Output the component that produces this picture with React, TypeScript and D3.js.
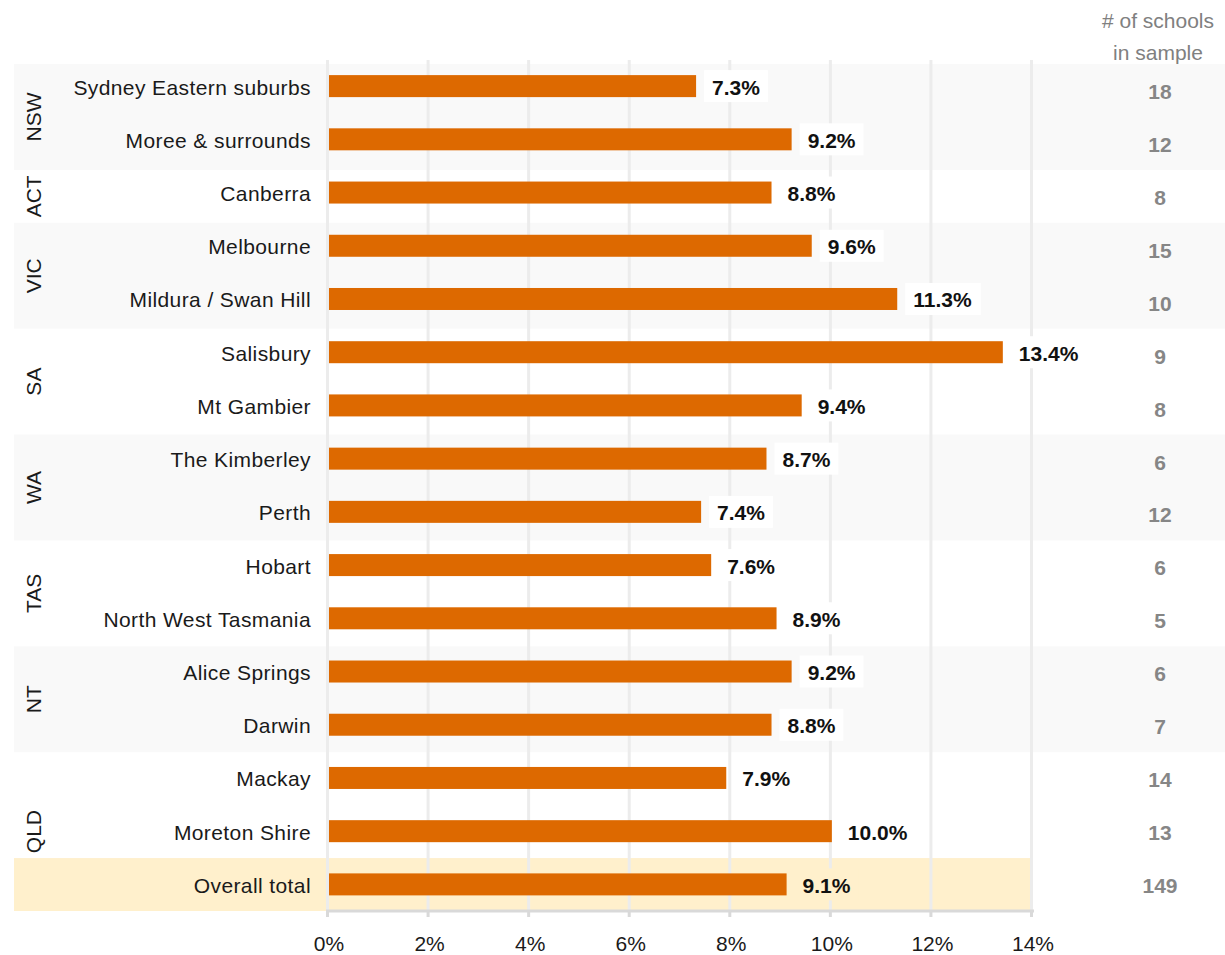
import React from "react";
import * as d3 from "d3";

const categories = [
  "Sydney Eastern suburbs", "Moree & surrounds", "Canberra", "Melbourne", "Mildura / Swan Hill",
  "Salisbury", "Mt Gambier", "The Kimberley", "Perth", "Hobart", "North West Tasmania",
  "Alice Springs", "Darwin", "Mackay", "Moreton Shire", "Overall total",
];
const values = [7.3, 9.2, 8.8, 9.6, 11.3, 13.4, 9.4, 8.7, 7.4, 7.6, 8.9, 9.2, 8.8, 7.9, 10.0, 9.1];
const schools = [18, 12, 8, 15, 10, 9, 8, 6, 12, 6, 5, 6, 7, 14, 13, 149];
// state groups: name, first row, row count, rows spanned by the label
const groupNames = ["NSW", "ACT", "VIC", "SA", "WA", "TAS", "NT", "QLD"];
const groupStart = [0, 2, 3, 5, 7, 9, 11, 13];
const groupSize = [2, 1, 2, 2, 2, 2, 2, 2];
const groupLabelSize = [2, 1, 2, 2, 2, 2, 2, 3];
const xTicks = [0, 2, 4, 6, 8, 10, 12, 14];
const headerLines = ["# of schools", "in sample"];

const W = 1225;
const H = 955;
const FONT = "'Liberation Sans', Arial, sans-serif";

export default function App() {
  const idx = categories.map((_, i) => i);
  const x = d3.scaleLinear().domain([0, 14]).range([329, 1033]);
  const yBar = d3.scaleBand<number>().domain(idx).range([59.5, 911]);
  const yRow = d3.scaleBand<number>().domain(idx).range([64, 911]);
  const barH = 22;
  const totalIdx = categories.length - 1;

  const measure = (t: string) => {
    // approximate width of bold 21px Arial text
    const w: Record<string, number> = { ".": 0.278, "%": 0.889 };
    let s = 0;
    for (const c of t) s += w[c] ?? 0.556;
    return s * 21;
  };

  return (
    <svg width={W} height={H} style={{ display: "block", position: "absolute", left: 0, top: 0 }} fontFamily={FONT}>
      <rect width={W} height={H} fill="#ffffff" />
      {/* group bands */}
      {groupNames.map((g, gi) => {
        if (gi % 2 === 1) return null;
        const y0 = yRow(groupStart[gi])!;
        const y1 = yRow(groupStart[gi] + groupSize[gi] - 1)! + yRow.bandwidth();
        return <rect key={g} x={14} y={y0} width={W - 14} height={y1 - y0} fill="#f9f9f9" />;
      })}
      <rect x={14} y={yRow(totalIdx)!} width={x(14) - 14} height={yRow.bandwidth()} fill="#fff0cc" />
      {/* gridlines */}
      {xTicks.map((t) => (
        <line key={t} x1={x(t) - 1.5} x2={x(t) - 1.5} y1={60} y2={911} stroke="#ececec" strokeWidth={3} />
      ))}
      {/* axis */}
      <line x1={x(0) - 3} x2={x(14) + 1} y1={911} y2={911} stroke="#d9d9d9" strokeWidth={3} />
      {xTicks.map((t) => (
        <line key={"tk" + t} x1={x(t) - 1.5} x2={x(t) - 1.5} y1={911} y2={917} stroke="#d9d9d9" strokeWidth={3} />
      ))}
      {xTicks.map((t) => (
        <text key={"tl" + t} x={x(t)} y={951} textAnchor="middle" fontSize={21} fill="#1a1a1a">
          {t}%
        </text>
      ))}
      {/* bars */}
      {values.map((v, i) => {
        const cy = yBar(i)! + yBar.bandwidth() / 2;
        const label = v.toFixed(1) + "%";
        const tw = measure(label);
        const bx = x(v) + 8;
        return (
          <g key={i}>
            <rect x={x(0)} y={cy - barH / 2} width={x(v) - x(0)} height={barH} fill="#dd6900" />
            <rect x={bx} y={cy - 16} width={tw + 16} height={32} fill={i === totalIdx ? "#fff0cc" : "#ffffff"} />
            <text x={x(v) + 16} y={cy + 1} dominantBaseline="central" fontSize={21} fontWeight="bold" fill="#111111">
              {label}
            </text>
            <text x={311} y={cy + 1} textAnchor="end" dominantBaseline="central" fontSize={21} letterSpacing={0.4} fill="#1a1a1a">
              {categories[i]}
            </text>
          </g>
        );
      })}
      {/* state labels */}
      {groupNames.map((g, gi) => {
        const y0 = yRow(groupStart[gi])!;
        const y1 = yRow(groupStart[gi] + groupLabelSize[gi] - 1)! + yRow.bandwidth();
        const cy = (y0 + y1) / 2;
        return (
          <text key={"s" + g} transform={`translate(33,${cy}) rotate(-90)`} textAnchor="middle" dominantBaseline="central" fontSize={21} fill="#1a1a1a">
            {g}
          </text>
        );
      })}
      {/* school counts */}
      {schools.map((n, i) => (
        <text key={"n" + i} x={1160} y={yRow(i)! + yRow.bandwidth() / 2 + 1} textAnchor="middle" dominantBaseline="central" fontSize={21} fontWeight="bold" fill="#868686">
          {n}
        </text>
      ))}
      {headerLines.map((l, i) => (
        <text key={"h" + i} x={1158} y={20 + i * 32} textAnchor="middle" dominantBaseline="central" fontSize={21} fill="#808080">
          {l}
        </text>
      ))}
    </svg>
  );
}
